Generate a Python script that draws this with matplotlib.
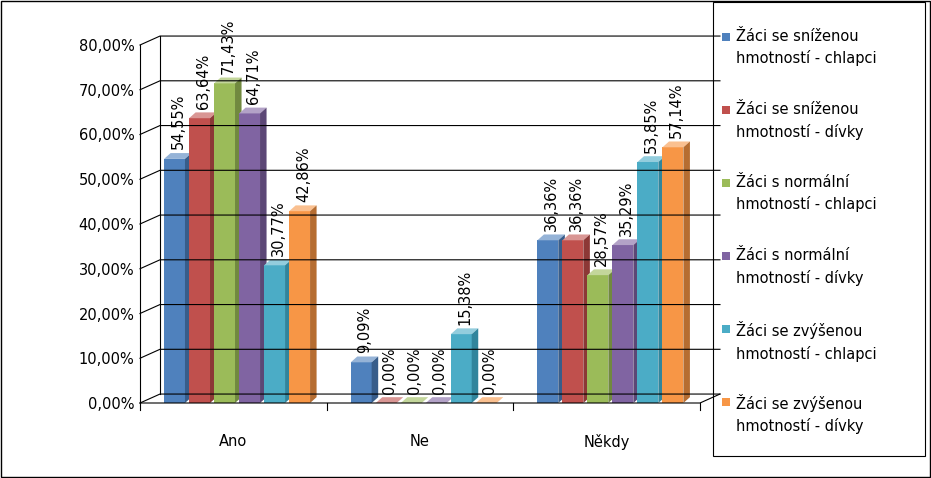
import matplotlib.pyplot as plt
from matplotlib.patches import Polygon, Rectangle

categories = ["Ano", "Ne", "Někdy"]
series = ["Žáci se sníženou\nhmotností - chlapci", "Žáci se sníženou\nhmotností - dívky",
          "Žáci s normální\nhmotností - chlapci", "Žáci s normální\nhmotností - dívky",
          "Žáci se zvýšenou\nhmotností - chlapci", "Žáci se zvýšenou\nhmotností - dívky"]
values = [
    [54.55, 9.09, 36.36],
    [63.64, 0.00, 36.36],
    [71.43, 0.00, 28.57],
    [64.71, 0.00, 35.29],
    [30.77, 15.38, 53.85],
    [42.86, 0.00, 57.14],
]
colors = ["#4F81BD", "#C0504D", "#9BBB59", "#8064A2", "#4BACC6", "#F79646"]
tops = ["#95B3D7", "#D99694", "#C3D69B", "#B3A2C7", "#93CDDD", "#FAC090"]
sides = ["#385D8A", "#8C3836", "#71893F", "#5C4776", "#31859C", "#B66D31"]

W, H = 931, 478
fig = plt.figure(figsize=(W / 100, H / 100), dpi=100)
ax = fig.add_axes([140 / W, 75 / H, 560 / W, 358 / H])
ax.set_xlim(0, 3)
ax.set_ylim(0, 80)
for s in ax.spines.values():
    s.set_visible(False)

gdx, gdy = 0.107, 2.0
for v in range(0, 81, 10):
    ax.plot([0, gdx, 3 + gdx], [v, v + gdy, v + gdy], color="black", lw=0.8, clip_on=False)
ax.plot([gdx, gdx], [gdy, 80 + gdy], color="black", lw=0.8, clip_on=False)
ax.plot([0, 0], [0, 80], color="black", lw=0.8, clip_on=False)
ax.plot([0, 3, 3 + gdx], [0, 0, gdy], color="black", lw=0.8, clip_on=False)
for i in range(4):
    ax.plot([i, i], [0, -1.5], color="black", lw=0.8, clip_on=False)

bw, step, dx, dy = 0.112, 0.134, 0.035, 1.3
for j in range(6):
    for i in range(3):
        v = values[j][i]
        x0 = i + 0.5 - 3 * step + j * step + (step - bw) / 2 + 0.02
        ax.add_patch(Rectangle((x0, 0), bw, v, fc=colors[j], ec="none"))
        ax.add_patch(Polygon([(x0, v), (x0 + dx, v + dy), (x0 + bw + dx, v + dy), (x0 + bw, v)],
                             fc=tops[j], ec="none"))
        ax.add_patch(Polygon([(x0 + bw, 0), (x0 + bw + dx, dy), (x0 + bw + dx, v + dy), (x0 + bw, v)],
                             fc=sides[j], ec="none"))
        ax.text(x0 + bw / 2 + 0.02, v + dy + 0.8, f"{v:.2f}%".replace(".", ","), rotation=90,
                ha="center", va="bottom", fontsize=10.5)

ax.set_xticks([0.5, 1.5, 2.5])
ax.set_xticklabels(categories, fontsize=10.5)
ax.tick_params(axis="x", length=0, pad=22)
ax.set_yticks(range(0, 81, 10))
ax.set_yticklabels([f"{v},00%" for v in range(0, 81, 10)], fontsize=10.5)
ax.tick_params(axis="y", length=0, pad=4)

fig.patches.append(Rectangle((713 / W, 22 / H), 212 / W, 454 / H, transform=fig.transFigure,
                             fill=False, ec="black", lw=0.8))
fig.patches.append(Rectangle((1 / W, 1 / H), 929 / W, 476 / H, transform=fig.transFigure,
                             fill=False, ec="black", lw=1))
for j in range(6):
    yc = 37 + j * 73
    fig.patches.append(Rectangle((722 / W, (H - yc - 4) / H), 8 / W, 8 / H,
                                 transform=fig.transFigure, fc=colors[j], ec="none"))
    fig.text(736 / W, (H - yc + 8) / H, series[j], fontsize=10.5, va="top", linespacing=1.5)

fig.savefig("out.png", dpi=100)
